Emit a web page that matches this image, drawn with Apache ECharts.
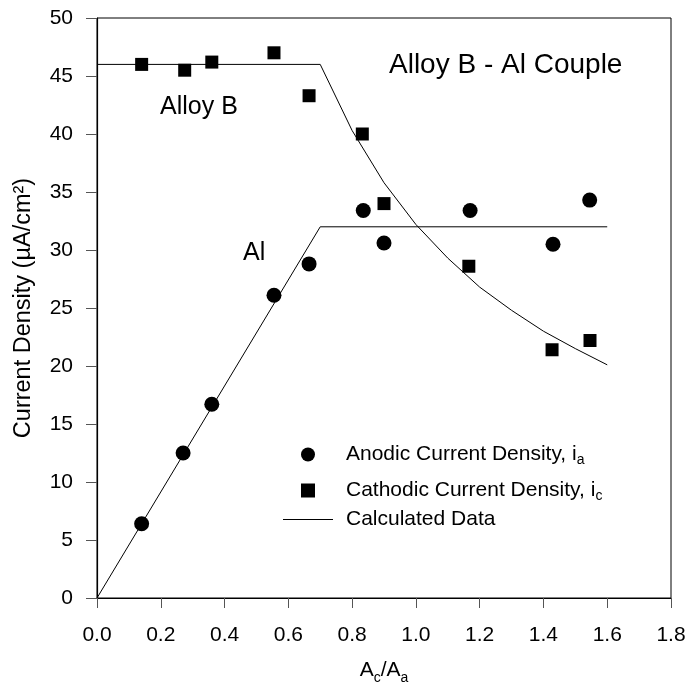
<!DOCTYPE html>
<html>
<head>
<meta charset="utf-8">
<script src="https://cdn.jsdelivr.net/npm/echarts@6/dist/echarts.min.js"></script>
<style>html,body{margin:0;padding:0;background:#fff;}#c{width:689px;height:687px;}</style>
</head>
<body>
<div id="c"></div>
<script>
// Measured data (A_c/A_a vs current density, µA/cm²)
const anodicX = [0.14, 0.27, 0.36, 0.555, 0.665, 0.835, 0.90, 1.17, 1.43, 1.545];
const anodicY = [6.4, 12.5, 16.7, 26.1, 28.8, 33.4, 30.6, 33.4, 30.5, 34.3];
const cathodicX = [0.14, 0.275, 0.36, 0.555, 0.665, 0.832, 0.90, 1.166, 1.427, 1.546];
const cathodicY = [46.0, 45.5, 46.2, 47.0, 43.3, 40.0, 34.0, 28.6, 21.4, 22.2];
// Calculated curves
const calcAnodicX = [0, 0.7, 1.6];
const calcAnodicY = [0, 32, 32];
const calcCathodicX = [0, 0.7, 0.8, 0.9, 1.0, 1.1, 1.2, 1.3, 1.4, 1.5, 1.6];
const calcCathodicY = [46, 46, 40.3, 35.8, 32.2, 29.3, 26.8, 24.8, 23.0, 21.5, 20.1];
// Axis ticks
const xTicks = [0, 0.2, 0.4, 0.6, 0.8, 1.0, 1.2, 1.4, 1.6, 1.8];
const yTicks = [0, 5, 10, 15, 20, 25, 30, 35, 40, 45, 50];

const zip = (xs, ys) => xs.map((x, i) => [x, ys[i]]);
const FONT = 'Liberation Sans';

const legendText = {
  padding: [0, 0, 0, 8],
  rich: {
    t: { fontSize: 21, fontFamily: FONT, color: '#000' },
    s: { fontSize: 14, fontFamily: FONT, color: '#000', padding: [11, 0, 0, 0] },
    u: { fontSize: 21, fontFamily: FONT, color: '#000' }
  }
};
const legendBase = {
  orient: 'vertical', padding: 0, itemGap: 0,
  itemWidth: 50, itemHeight: 14, symbolKeepAspect: true,
  textStyle: legendText,
  formatter: n => n === 'anodic' ? '{t|Anodic Current Density, i}{s|a}'
                : n === 'cathodic' ? '{t|Cathodic Current Density, i}{s|c}'
                : '{u|Calculated Data}'
};

const chart = echarts.init(document.getElementById('c'));
chart.setOption({
  animation: false,
  backgroundColor: '#fff',
  grid: { left: 97, right: 18, top: 18, bottom: 89, outerBoundsMode: 'none', containLabel: false,
          show: true, borderColor: '#000', borderWidth: 1, backgroundColor: 'transparent' },
  xAxis: {
    type: 'value', min: xTicks[0], max: xTicks[xTicks.length - 1], interval: 0.2,
    axisLine: { show: true, lineStyle: { color: '#000', width: 1.2 } },
    axisTick: { show: true, inside: false, length: 10, lineStyle: { color: '#555' } },
    splitLine: { show: false },
    axisLabel: { color: '#000', fontSize: 21, fontFamily: FONT, margin: 27, formatter: v => v.toFixed(1) },
    name: '{a|A}{s|c}{a|/A}{s|a}',
    nameLocation: 'middle', nameGap: 57,
    nameTextStyle: {
      rich: {
        a: { fontSize: 21, fontFamily: FONT, color: '#000', lineHeight: 30 },
        s: { fontSize: 14, fontFamily: FONT, color: '#000', lineHeight: 16, verticalAlign: 'bottom' }
      }
    }
  },
  yAxis: {
    type: 'value', min: yTicks[0], max: yTicks[yTicks.length - 1], interval: 5,
    axisLine: { show: true, lineStyle: { color: '#000', width: 1.2 } },
    axisTick: { show: true, inside: false, length: 11, lineStyle: { color: '#555' } },
    splitLine: { show: false },
    axisLabel: { color: '#000', fontSize: 21, fontFamily: FONT, margin: 24 },
    name: 'Current Density (µA/cm²)',
    nameLocation: 'middle', nameGap: 61,
    nameTextStyle: { fontSize: 23.5, fontFamily: FONT, color: '#000' }
  },
  legend: [
    Object.assign({}, legendBase, { left: 301, top: 444, data: [{ name: 'anodic', icon: 'circle' }] }),
    Object.assign({}, legendBase, { left: 301, top: 480, data: [{ name: 'cathodic', icon: 'path://M0,0H10V10H0Z' }] }),
    Object.assign({}, legendBase, { left: 283, top: 509, data: [{ name: 'calc', icon: 'path://M0,0H50V1H0Z' }] })
  ],
  graphic: [
    { type: 'text', x: 389, y: 65, style: { text: 'Alloy B - Al Couple', font: '28px ' + FONT, fill: '#000', align: 'left', verticalAlign: 'middle' } },
    { type: 'text', x: 160, y: 107, style: { text: 'Alloy B', font: '25px ' + FONT, fill: '#000', align: 'left', verticalAlign: 'middle' } },
    { type: 'text', x: 243, y: 253, style: { text: 'Al', font: '25px ' + FONT, fill: '#000', align: 'left', verticalAlign: 'middle' } }
  ],
  series: [
    { name: 'calc', type: 'line', data: zip(calcAnodicX, calcAnodicY), symbol: 'none', lineStyle: { color: '#000', width: 1 }, itemStyle: { color: '#000' }, z: 1 },
    { name: 'calc', type: 'line', data: zip(calcCathodicX, calcCathodicY), symbol: 'none', lineStyle: { color: '#000', width: 1 }, itemStyle: { color: '#000' }, z: 1 },
    { name: 'anodic', type: 'scatter', data: zip(anodicX, anodicY), symbol: 'circle', symbolSize: 15, itemStyle: { color: '#000', opacity: 1 }, z: 3 },
    { name: 'cathodic', type: 'scatter', data: zip(cathodicX, cathodicY), symbol: 'rect', symbolSize: 13, itemStyle: { color: '#000', opacity: 1 }, z: 3 }
  ]
});
</script>
</body>
</html>
